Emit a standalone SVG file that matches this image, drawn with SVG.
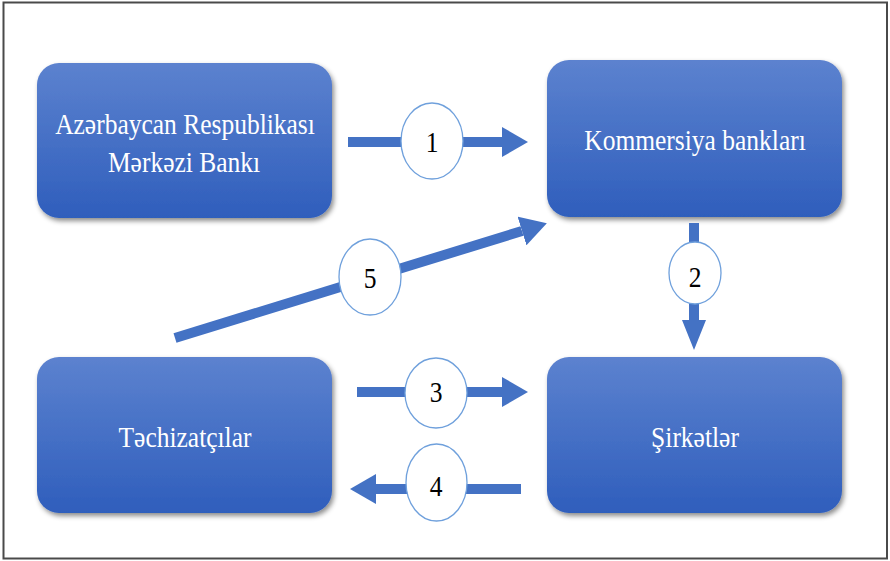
<svg xmlns="http://www.w3.org/2000/svg" width="890" height="561" viewBox="0 0 890 561">
<defs>
<linearGradient id="g" x1="0" y1="0" x2="0" y2="1">
<stop offset="0" stop-color="#5c82cf"/>
<stop offset="1" stop-color="#2f5ebc"/>
</linearGradient>
<filter id="sh" x="-10%" y="-10%" width="125%" height="130%">
<feDropShadow dx="2" dy="3" stdDeviation="2.5" flood-color="#000" flood-opacity="0.45"/>
</filter>
<marker id="ah" markerUnits="userSpaceOnUse" viewBox="0 0 26 30" refX="0" refY="15" markerWidth="26" markerHeight="30" orient="auto">
<path d="M0,0 L26,15 L0,30 Z" fill="#4472c4"/>
</marker>
<marker id="ah2" markerUnits="userSpaceOnUse" viewBox="0 0 30 24" refX="0" refY="12" markerWidth="30" markerHeight="24" orient="auto">
<path d="M0,0 L30,12 L0,24 Z" fill="#4472c4"/>
</marker>
</defs>
<style>
.box{fill:url(#g);filter:url(#sh);}
.t{font-family:"Liberation Serif","Times New Roman",serif;font-size:30px;fill:#ffffff;text-anchor:middle;}
.n{font-family:"Liberation Serif","Times New Roman",serif;font-size:30px;fill:#000000;text-anchor:middle;}
.ln{stroke:#4472c4;stroke-width:10;fill:none;}
.lbl{fill:#ffffff;stroke:#6fa0dc;stroke-width:1.3;}
</style>
<rect x="3.5" y="2.5" width="883.5" height="556" fill="#ffffff" stroke="#4a4a4a" stroke-width="2"/>
<g id="node-cb">
<rect class="box" x="37" y="63" width="295" height="155" rx="22"/>
<text class="t" transform="translate(185,134) scale(0.85,1)">Azərbaycan Respublikası</text>
<text class="t" transform="translate(184,172) scale(0.85,1)">Mərkəzi Bankı</text>
</g>
<g id="node-kb">
<rect class="box" x="547" y="60" width="295" height="157" rx="22"/>
<text class="t" transform="translate(695,150) scale(0.85,1)">Kommersiya bankları</text>
</g>
<g id="node-tc">
<rect class="box" x="37" y="357" width="295" height="156" rx="22"/>
<text class="t" transform="translate(185,447) scale(0.85,1)">Təchizatçılar</text>
</g>
<g id="node-sr">
<rect class="box" x="547" y="357" width="295" height="156" rx="22"/>
<text class="t" transform="translate(695,447) scale(0.85,1)">Şirkətlər</text>
</g>
<g id="connectors">
<line class="ln" x1="348" y1="142" x2="502" y2="142" marker-end="url(#ah)"/>
<line class="ln" x1="694" y1="223" x2="694" y2="320" stroke-width="9" marker-end="url(#ah2)"/>
<line class="ln" x1="357" y1="392" x2="502" y2="392" marker-end="url(#ah)"/>
<line class="ln" x1="521" y1="489" x2="376" y2="489" marker-end="url(#ah)"/>
<line class="ln" x1="175" y1="338" x2="522" y2="231" marker-end="url(#ah)"/>
<ellipse class="lbl" cx="432" cy="141" rx="31" ry="38"/>
<text class="n" transform="translate(432,152) scale(0.85,1)">1</text>
<ellipse class="lbl" cx="695" cy="273" rx="26" ry="31"/>
<text class="n" transform="translate(695,287) scale(0.85,1)">2</text>
<ellipse class="lbl" cx="436" cy="393" rx="31" ry="35"/>
<text class="n" transform="translate(436,402) scale(0.85,1)">3</text>
<ellipse class="lbl" cx="436.5" cy="482.5" rx="30.5" ry="38.5"/>
<text class="n" transform="translate(436,496) scale(0.85,1)">4</text>
<ellipse class="lbl" cx="370" cy="277" rx="31" ry="38"/>
<text class="n" transform="translate(370,288) scale(0.85,1)">5</text>
</g>
</svg>
